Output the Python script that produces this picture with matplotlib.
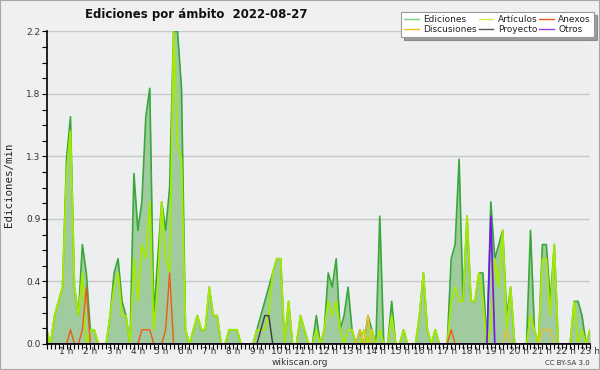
import numpy as np
import matplotlib
matplotlib.use("Agg")
import matplotlib.pyplot as plt
from matplotlib.lines import Line2D
from matplotlib.patches import Rectangle

# edits per minute, one value per 10 min bin (0:10 .. 23:00)
ediciones = [
    0.1, 0, 0.2, 0.3, 0.4, 1.3, 1.6, 0.4, 0.2, 0.7,
    0.5, 0.1, 0.1, 0, 0, 0, 0.2, 0.5, 0.6, 0.3,
    0.2, 0, 1.2, 0.8, 1.0, 1.6, 1.8, 0.2, 0.6, 1.0,
    0.8, 1.1, 2.2, 2.2, 1.8, 0.1, 0, 0.1, 0.2, 0.1,
    0.1, 0.4, 0.2, 0.2, 0, 0, 0.1, 0.1, 0.1, 0,
    0, 0, 0, 0.1, 0.2, 0.3, 0.4, 0.5, 0.6, 0.6,
    0, 0.3, 0, 0, 0.2, 0.1, 0, 0, 0.2, 0,
    0.1, 0.5, 0.4, 0.6, 0.1, 0.2, 0.4, 0.1, 0, 0.1,
    0, 0.2, 0.1, 0, 0.9, 0, 0, 0.3, 0, 0,
    0.1, 0, 0, 0, 0.2, 0.5, 0.1, 0, 0.1, 0,
    0, 0, 0.6, 0.7, 1.3, 0.3, 0.9, 0.3, 0.3, 0.5,
    0.5, 0, 1.0, 0.6, 0.7, 0.8, 0.2, 0.4, 0, 0,
    0, 0, 0.8, 0.1, 0, 0.7, 0.7, 0.3, 0.7, 0,
    0, 0, 0, 0.3, 0.3, 0.2, 0, 0.1,
]
articulos = [
    0.1, 0, 0.2, 0.3, 0.4, 1.2, 1.5, 0.4, 0.2, 0.5,
    0, 0.1, 0.1, 0, 0, 0, 0.2, 0.4, 0.5, 0.2,
    0.2, 0, 0.6, 0.3, 0.7, 0.6, 1.0, 0.1, 0.4, 1.0,
    0.6, 0.5, 2.2, 1.4, 1.3, 0.1, 0, 0.1, 0.2, 0.1,
    0.1, 0.4, 0.2, 0.2, 0, 0, 0.1, 0.1, 0.1, 0,
    0, 0, 0, 0.1, 0.1, 0.1, 0.2, 0.5, 0.6, 0.6,
    0, 0.3, 0, 0, 0.2, 0.1, 0, 0, 0.1, 0,
    0.1, 0.3, 0.2, 0.3, 0.1, 0, 0.1, 0.1, 0, 0,
    0.1, 0, 0.1, 0, 0.1, 0, 0, 0.2, 0, 0,
    0.1, 0, 0, 0, 0.2, 0.5, 0.1, 0, 0.1, 0,
    0, 0, 0.3, 0.4, 0.3, 0.3, 0.9, 0.3, 0.3, 0.5,
    0.3, 0, 0.1, 0.6, 0.4, 0.8, 0.1, 0.4, 0, 0,
    0, 0, 0.2, 0.1, 0, 0.6, 0.6, 0.2, 0.7, 0,
    0, 0, 0, 0.3, 0, 0.1, 0, 0.1,
]
# sparse series: bin index -> value
anexos_idx = [6, 9, 10, 24, 25, 26, 30, 31, 102]
anexos_val = [0.1, 0.1, 0.4, 0.1, 0.1, 0.1, 0.1, 0.5, 0.1]
discusiones_idx = [79, 81, 116, 125, 126, 127]
discusiones_val = [0.1, 0.2, 0.1, 0.1, 0.1, 0.1]
proyecto_idx = [54, 55, 56]
proyecto_val = [0.1, 0.2, 0.2]
otros_idx = [112]
otros_val = [0.9]

hours = list(range(1, 24))
hour_labels = ["%d h" % h for h in hours]

n = len(ediciones)
x = np.arange(n)


def full(idx, val):
    s = np.zeros(n)
    s[idx] = val
    return s


anexos = full(anexos_idx, anexos_val)
discusiones = full(discusiones_idx, discusiones_val)
proyecto = full(proyecto_idx, proyecto_val)
otros = full(otros_idx, otros_val)

c_edi_fill = "#9fcb9f"
c_edi = "#38a838"
c_art = "#a6ea00"
c_anx = "#f05a14"
c_dis = "#f2c21b"
c_pro = "#3c3c3c"
c_otr = "#7a10f0"

fig = plt.figure(figsize=(6, 3.7), dpi=100, facecolor="#f0f0f0")
ax = fig.add_axes([0.0778, 0.0703, 0.9055, 0.8446])
ax.set_facecolor("#eceef0")

ax.fill_between(x, 0, ediciones, color=c_edi_fill, lw=0, zorder=1)
ax.plot(x, ediciones, color=c_edi, lw=1.2, zorder=2)
ax.plot(x, articulos, color=c_art, lw=1.3, zorder=2)
ax.plot(x, discusiones, color=c_dis, lw=1.0, zorder=2)
ax.plot(x, proyecto, color=c_pro, lw=1.0, zorder=2)
ax.plot(x, anexos, color=c_anx, lw=1.0, zorder=2)
ax.plot(x, otros, color=c_otr, lw=1.2, zorder=2)

ax.set_xlim(0, n - 1)
ax.set_ylim(0, 2.2)

yt = np.linspace(0, 2.2, 6)
ax.set_yticks(yt)
ax.set_yticklabels(["%.1f" % v for v in yt])
ax.set_yticks(np.linspace(0, 2.2, 21), minor=True)
ax.set_xticks([6 * h - 1 for h in hours])
ax.set_xticklabels(hour_labels)
ax.set_xticks(x, minor=True)

ax.tick_params(axis="both", which="both", direction="out", length=3.5,
               width=0.8, color="black", labelsize=6.5, labelcolor="#333333")
ax.tick_params(axis="x", which="both", pad=-1)
ax.tick_params(axis="y", which="both", pad=1)

ax.yaxis.grid(True, which="major", color="#c8c8c8", lw=1)
ax.set_axisbelow(True)
for s in ["top", "right"]:
    ax.spines[s].set_visible(False)
for s in ["left", "bottom"]:
    ax.spines[s].set_linewidth(1.2)
    ax.spines[s].set_zorder(3)

fig.text(0.142, 0.962, "Ediciones por ámbito  2022-08-27", fontsize=8.5,
         fontweight="bold", va="center", ha="left", color="#111111")
fig.text(0.015, 0.5, "Ediciones/min", rotation=90, va="center", ha="center",
         fontsize=7.8, family="DejaVu Sans Mono", color="#222222")
fig.text(0.5, 0.02, "wikiscan.org", ha="center", va="center", fontsize=6.5,
         color="#333333")
fig.text(0.983, 0.02, "CC BY-SA 3.0", ha="right", va="center", fontsize=5,
         color="#333333")

handles = [
    Line2D([], [], color="#7fd07f", lw=1),
    Line2D([], [], color=c_dis, lw=1),
    Line2D([], [], color="#c8f050", lw=1),
    Line2D([], [], color="#555555", lw=1),
    Line2D([], [], color=c_anx, lw=1),
    Line2D([], [], color="#9040f0", lw=1),
]
labels = ["Ediciones", "Discusiones", "Artículos", "Proyecto", "Anexos", "Otros"]
leg = fig.legend(handles, labels, ncol=3, loc="upper right",
                 bbox_to_anchor=(0.99, 0.968), fontsize=6.5, frameon=True,
                 fancybox=False, shadow=True, handlelength=1.6,
                 handletextpad=0.5, columnspacing=0.2, labelspacing=0.1,
                 borderpad=0.35, borderaxespad=0)
leg.get_frame().set_edgecolor("#999999")
leg.get_frame().set_linewidth(0.8)
for t in leg.get_texts():
    t.set_color("#222222")

fig.patches.append(Rectangle((0, 0), 1, 1, transform=fig.transFigure,
                             fill=False, edgecolor="#a8a8a8", lw=1.5))

fig.savefig("out.png", dpi=100, facecolor=fig.get_facecolor())
